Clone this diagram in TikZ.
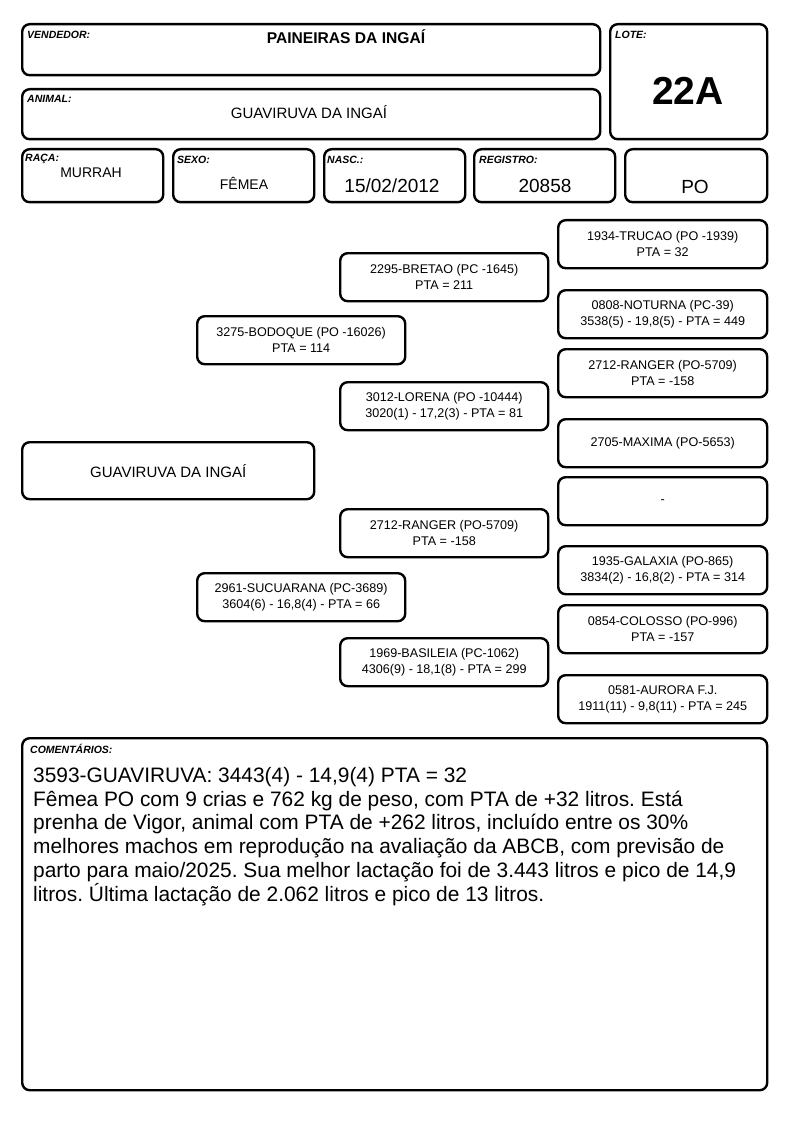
\documentclass[tikz,border=0pt]{standalone}
\usepackage{fontspec}
\setmainfont{Liberation Sans}
\frenchspacing
\begin{document}
\begin{tikzpicture}[x=1pt,y=-1pt,
  box/.style={draw, line width=2.4pt, rounded corners=7.5pt, inner sep=0pt, anchor=north west, align=center},
  lbl/.style={anchor=north west, inner sep=0pt, font=\fontsize{10.5}{12}\selectfont\bfseries\itshape},
  val/.style={anchor=base, inner sep=0pt},
  ped/.style={box, minimum width=208pt, minimum height=48pt, font=\fontsize{12.6}{15.8}\selectfont},
]
\useasboundingbox[fill=white] (0,0) rectangle (794,1123);

% header
\node[box, minimum width=578pt, minimum height=51pt] (vend) at (21,23) {};
\node[lbl] (vendl) at (27,31) {VENDEDOR:};
\node[val, font=\fontsize{15.6}{18}\selectfont\bfseries] (vendv) at (346,44) {PAINEIRAS DA INGAÍ};

\node[box, minimum width=157pt, minimum height=115pt] (lote) at (609,23) {};
\node[lbl] (lotel) at (615,31) {LOTE:};
\node[val, font=\fontsize{39}{44}\selectfont\bfseries] (lotev) at (688,105) {22A};

\node[box, minimum width=578pt, minimum height=50pt] (anim) at (21,88) {};
\node[lbl] (animl) at (27,95) {ANIMAL:};
\node[val, font=\fontsize{15}{18}\selectfont] (animv) at (309,119) {GUAVIRUVA DA INGAÍ};

\node[box, minimum width=141pt, minimum height=53pt] (raca) at (21,148) {};
\node[lbl] (racal) at (25,154) {RAÇA:};
\node[val, font=\fontsize{14}{17}\selectfont] (racav) at (91,178) {MURRAH};

\node[box, minimum width=141pt, minimum height=53pt] (sexo) at (172,148) {};
\node[lbl] (sexol) at (177,156) {SEXO:};
\node[val, font=\fontsize{14}{17}\selectfont] (sexov) at (244,190) {FÊMEA};

\node[box, minimum width=141pt, minimum height=53pt] (nasc) at (323,148) {};
\node[lbl] (nascl) at (327,156) {NASC.:};
\node[val, font=\fontsize{19}{22}\selectfont] (nascv) at (392,193) {15/02/2012};

\node[box, minimum width=141pt, minimum height=53pt] (reg) at (473,148) {};
\node[lbl] (regl) at (479,156) {REGISTRO:};
\node[val, font=\fontsize{19}{22}\selectfont] (regv) at (545,193) {20858};

\node[box, minimum width=142pt, minimum height=53pt] (po) at (624,148) {};
\node[val, font=\fontsize{19}{22}\selectfont] (pov) at (695,194) {PO};

% pedigree: column 1
\node[box, minimum width=292pt, minimum height=57pt, font=\fontsize{15}{18}\selectfont] (g0) at (21,441) {GUAVIRUVA DA INGAÍ};

% column 2
\node[ped] (g1a) at (196,315) {3275-BODOQUE (PO -16026)\\PTA = 114};
\node[ped] (g1b) at (196,572) {2961-SUCUARANA (PC-3689)\\3604(6) - 16,8(4) - PTA = 66};

% column 3
\node[ped] (g2a) at (339,252) {2295-BRETAO (PC -1645)\\PTA = 211};
\node[ped] (g2b) at (339,381) {3012-LORENA (PO -10444)\\3020(1) - 17,2(3) - PTA = 81};
\node[ped] (g2c) at (339,508) {2712-RANGER (PO-5709)\\PTA = -158};
\node[ped] (g2d) at (339,637) {1969-BASILEIA (PC-1062)\\4306(9) - 18,1(8) - PTA = 299};

% column 4
\node[ped, minimum width=209pt] (g3a) at (557,219) {1934-TRUCAO (PO -1939)\\PTA = 32};
\node[ped, minimum width=209pt] (g3b) at (557,289) {0808-NOTURNA (PC-39)\\3538(5) - 19,8(5) - PTA = 449};
\node[ped, minimum width=209pt] (g3c) at (557,348) {2712-RANGER (PO-5709)\\PTA = -158};
\node[ped, minimum width=209pt] (g3d) at (557,418) {2705-MAXIMA (PO-5653)};
\node[ped, minimum width=209pt] (g3e) at (557,476) {-};
\node[ped, minimum width=209pt] (g3f) at (557,545) {1935-GALAXIA (PO-865)\\3834(2) - 16,8(2) - PTA = 314};
\node[ped, minimum width=209pt] (g3g) at (557,604) {0854-COLOSSO (PO-996)\\PTA = -157};
\node[ped, minimum width=209pt] (g3h) at (557,674) {0581-AURORA F.J.\\1911(11) - 9,8(11) - PTA = 245};

% comments
\node[box, minimum width=745pt, minimum height=352pt] (com) at (21,737) {};
\node[lbl] (coml) at (30,744) {COMENTÁRIOS:};
\node[anchor=north west, inner sep=0pt, align=left, font=\fontsize{20.9}{23.8}\selectfont] (comv) at (33,767) {3593-GUAVIRUVA: 3443(4) - 14,9(4) PTA = 32\\
Fêmea PO com 9 crias e 762 kg de peso, com PTA de +32 litros. Está\\
prenha de Vigor, animal com PTA de +262 litros, incluído entre os 30\%\\
melhores machos em reprodução na avaliação da ABCB, com previsão de\\
parto para maio/2025. Sua melhor lactação foi de 3.443 litros e pico de 14,9\\
litros. Última lactação de 2.062 litros e pico de 13 litros.};
\end{tikzpicture}
\end{document}
